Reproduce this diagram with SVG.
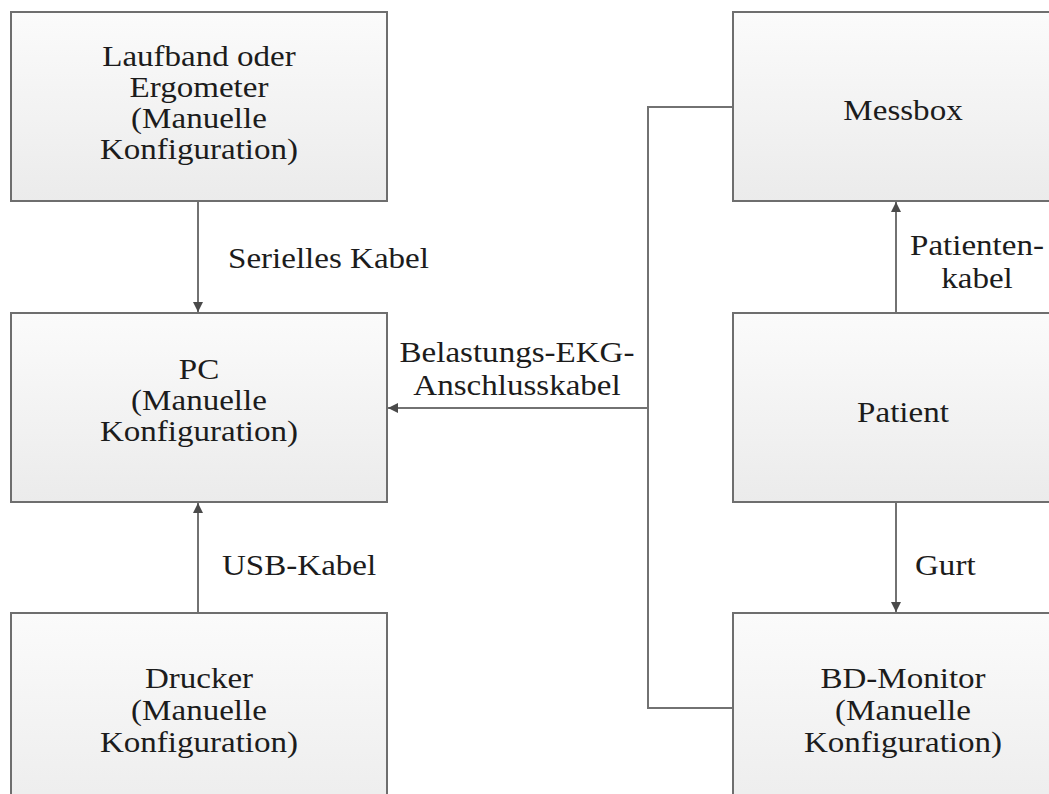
<svg xmlns="http://www.w3.org/2000/svg" width="1049" height="794" viewBox="0 0 1049 794">
<style>
.box{stroke:#6e6e6e;stroke-width:2;fill:url(#g)}
.t{font-family:"Liberation Serif","Times New Roman",serif;font-size:29px;fill:#1c1c1c}
.c{text-anchor:middle}
.line{stroke:#727272;stroke-width:2;fill:none}
</style>
<defs>
<linearGradient id="g" x1="0" y1="0" x2="0" y2="1">
<stop offset="0" stop-color="#fbfbfb"/>
<stop offset="1" stop-color="#ebebeb"/>
</linearGradient>
<marker id="ah" viewBox="0 0 10 10" refX="10" refY="5" markerWidth="10" markerHeight="10" markerUnits="userSpaceOnUse" orient="auto">
<path d="M0,0 L10,5 L0,10 Z" fill="#4a4a4a"/>
</marker>
</defs>
<rect width="1049" height="794" fill="#ffffff"/>
<g id="connectors">
<line class="line" x1="198" y1="202" x2="198" y2="312" marker-end="url(#ah)"/>
<text class="t" transform="translate(228 268) scale(1.14 1)">Serielles Kabel</text>
<line class="line" x1="198" y1="613" x2="198" y2="503" marker-end="url(#ah)"/>
<text class="t" transform="translate(222 575) scale(1.14 1)">USB-Kabel</text>
<line class="line" x1="896" y1="313" x2="896" y2="202" marker-end="url(#ah)"/>
<text class="t c" transform="translate(977 255) scale(1.14 1)">Patienten-</text>
<text class="t c" transform="translate(977 288) scale(1.14 1)">kabel</text>
<line class="line" x1="896" y1="503" x2="896" y2="612" marker-end="url(#ah)"/>
<text class="t" transform="translate(915 575) scale(1.14 1)">Gurt</text>
<polyline class="line" points="733,107 648,107 648,708 733,708"/>
<line class="line" x1="648" y1="408" x2="388" y2="408" marker-end="url(#ah)"/>
<text class="t c" transform="translate(517 362) scale(1.14 1)">Belastungs-EKG-</text>
<text class="t c" transform="translate(517 395) scale(1.14 1)">Anschlusskabel</text>
</g>
<g id="laufband">
<rect class="box" x="11" y="12" width="376" height="189"/>
<text class="t c" transform="translate(199 66) scale(1.14 1)">Laufband oder</text>
<text class="t c" transform="translate(199 97) scale(1.14 1)">Ergometer</text>
<text class="t c" transform="translate(199 128) scale(1.14 1)">(Manuelle</text>
<text class="t c" transform="translate(199 159) scale(1.14 1)">Konfiguration)</text>
</g>
<g id="pc">
<rect class="box" x="11" y="313" width="376" height="189"/>
<text class="t c" transform="translate(199 379) scale(1.14 1)">PC</text>
<text class="t c" transform="translate(199 410) scale(1.14 1)">(Manuelle</text>
<text class="t c" transform="translate(199 441) scale(1.14 1)">Konfiguration)</text>
</g>
<g id="drucker">
<rect class="box" x="11" y="613" width="376" height="220"/>
<text class="t c" transform="translate(199 688) scale(1.14 1)">Drucker</text>
<text class="t c" transform="translate(199 720) scale(1.14 1)">(Manuelle</text>
<text class="t c" transform="translate(199 752) scale(1.14 1)">Konfiguration)</text>
</g>
<g id="messbox">
<rect class="box" x="733" y="12" width="340" height="189"/>
<text class="t c" transform="translate(903 120) scale(1.14 1)">Messbox</text>
</g>
<g id="patient">
<rect class="box" x="733" y="313" width="340" height="189"/>
<text class="t c" transform="translate(903 422) scale(1.14 1)">Patient</text>
</g>
<g id="bdmonitor">
<rect class="box" x="733" y="613" width="340" height="220"/>
<text class="t c" transform="translate(903 688) scale(1.14 1)">BD-Monitor</text>
<text class="t c" transform="translate(903 720) scale(1.14 1)">(Manuelle</text>
<text class="t c" transform="translate(903 752) scale(1.14 1)">Konfiguration)</text>
</g>
</svg>
